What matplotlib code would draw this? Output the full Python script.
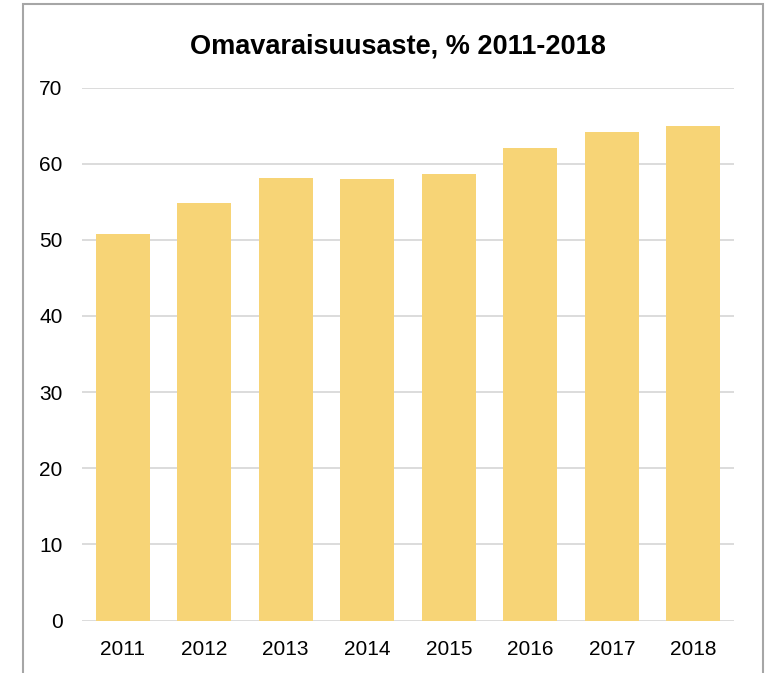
import matplotlib.pyplot as plt
from matplotlib.patches import Rectangle

# data
years = ['2011', '2012', '2013', '2014', '2015', '2016', '2017', '2018']
omavaraisuus = [50.7, 54.9, 58.1, 58.0, 58.6, 62.1, 64.2, 65.0]
y_ticks = [0, 10, 20, 30, 40, 50, 60, 70]

plt.rcParams['font.family'] = ['Liberation Sans', 'DejaVu Sans']

fig = plt.figure(figsize=(7.72, 6.73), dpi=100)
ax = fig.add_axes([0.1062, 0.078, 0.8446, 0.7919])

x = range(len(years))
ax.bar(x, omavaraisuus, width=0.66, color='#F7D476', zorder=2)

ax.set_xlim(-0.5, len(years) - 0.5)
ax.set_ylim(0, 70)
ax.set_yticks(y_ticks)
ax.set_xticks(list(x))
ax.set_xticklabels(years)
ax.yaxis.grid(True, color='#D9D9D9', linewidth=1.3, zorder=0)
ax.tick_params(axis='both', length=0, labelsize=15, colors='black')
ax.tick_params(axis='x', pad=14)
ax.tick_params(axis='y', pad=14)
for s in ax.spines.values():
    s.set_visible(False)

fig.text(398 / 772, 1 - 47 / 673, 'Omavaraisuusaste, % 2011-2018', ha='center', va='center',
         fontsize=19.5, fontweight='bold')

# outer chart frame, bottom edge is cut off in the original
frame = Rectangle((23 / 772, -0.05), (763 - 23) / 772, 1.05 - 4.5 / 673,
                  transform=fig.transFigure, fill=False, edgecolor='#A6A6A6',
                  linewidth=1.5)
fig.patches.append(frame)

fig.savefig('out.png', dpi=100)
